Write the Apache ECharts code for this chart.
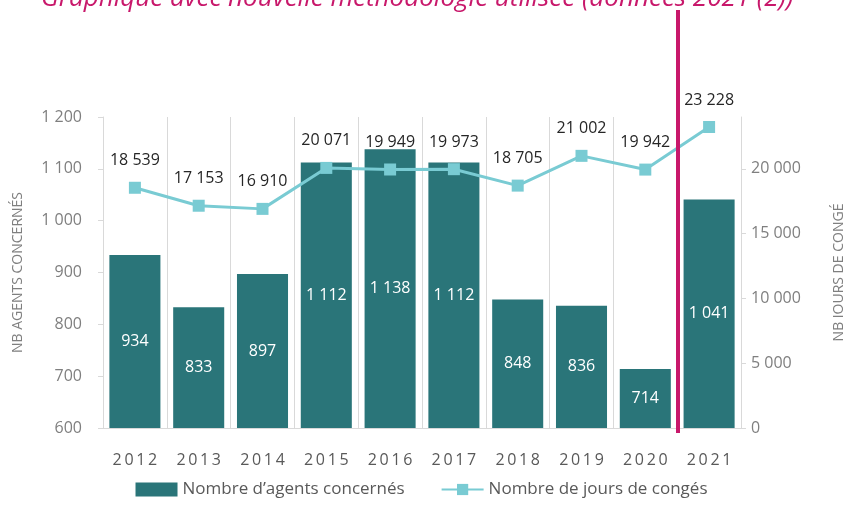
<!DOCTYPE html>
<html>
<head>
<meta charset="utf-8">
<script src="https://cdn.jsdelivr.net/npm/echarts@6/dist/echarts.min.js"></script>
<style>
  html, body { margin: 0; padding: 0; background: #fff; }
  #chart { width: 843px; height: 505px; }
</style>
</head>
<body>
<div id="chart"></div>
<script>
// Years shown on the category axis
const years = ['2012', '2013', '2014', '2015', '2016', '2017', '2018', '2019', '2020', '2021'];
// Number of agents concerned (bars, left axis)
const agents = [934, 833, 897, 1112, 1138, 1112, 848, 836, 714, 1041];
// Number of leave days (line, right axis)
const jours = [18539, 17153, 16910, 20071, 19949, 19973, 18705, 21002, 19942, 23228];

const titleText = 'Graphique avec nouvelle méthodologie utilisée (données 2021 (2))';
const fontFam = '"Open Sans", "Noto Sans", sans-serif';

// thousands separated by a space, French style
function fmt(v) {
  return String(v).replace(/\B(?=(\d{3})+(?!\d))/g, ' ');
}

const chart = echarts.init(document.getElementById('chart'), null, { renderer: 'canvas' });

chart.setOption({
  animation: false,
  title: {
    text: titleText,
    left: 36,
    top: -19,
    textStyle: { color: '#c8186b', fontStyle: 'italic', fontWeight: 'normal', fontSize: 26, fontFamily: fontFam }
  },
  grid: { left: 103, right: 102, top: 117, bottom: 77, outerBoundsMode: 'none', containLabel: false },
  legend: {
    bottom: 2,
    left: 'center',
    itemGap: 36,
    itemWidth: 42,
    itemHeight: 14,
    textStyle: { color: '#595959', fontSize: 17, fontFamily: fontFam },
    data: [
      { name: 'Nombre d’agents concernés', icon: 'rect' },
      { name: 'Nombre de jours de congés' }
    ]
  },
  xAxis: {
    type: 'category',
    data: years,
    axisLine: { lineStyle: { color: '#d9d9d9' } },
    axisTick: { show: false },
    splitLine: { show: true, lineStyle: { color: '#d9d9d9', width: 1 } },
    axisLabel: {
      color: '#595959',
      fontSize: 16,
      fontFamily: fontFam,
      margin: 24,
      formatter: v => v.split('').join('\u2009')
    }
  },
  yAxis: [
    {
      type: 'value',
      min: 600,
      max: 1200,
      interval: 100,
      name: 'NB AGENTS CONCERNÉS',
      nameLocation: 'middle',
      nameRotate: 90,
      nameGap: 78,
      nameTextStyle: { color: '#7f7f7f', fontSize: 14, fontFamily: fontFam },
      axisLine: { show: true, lineStyle: { color: '#d9d9d9' } },
      axisTick: { show: true, length: 5, lineStyle: { color: '#d9d9d9' } },
      splitLine: { show: false },
      axisLabel: { color: '#7f7f7f', fontSize: 16, fontFamily: fontFam, margin: 21, formatter: fmt }
    },
    {
      type: 'value',
      min: 0,
      max: 24000,
      interval: 5000,
      name: 'NB JOURS DE CONGÉ',
      nameLocation: 'middle',
      nameRotate: 90,
      nameGap: 91,
      nameTextStyle: { color: '#7f7f7f', fontSize: 14, fontFamily: fontFam },
      axisLine: { show: true, lineStyle: { color: '#d9d9d9' } },
      axisTick: { show: true, length: 5, lineStyle: { color: '#d9d9d9' } },
      splitLine: { show: false },
      axisLabel: { color: '#7f7f7f', fontSize: 16, fontFamily: fontFam, margin: 10, showMaxLabel: false, formatter: fmt }
    }
  ],
  series: [
    {
      name: 'Nombre d’agents concernés',
      type: 'bar',
      yAxisIndex: 0,
      data: agents,
      barCategoryGap: '20%',
      itemStyle: { color: '#2a7579' },
      label: {
        show: true,
        position: 'inside',
        color: '#ffffff',
        fontSize: 16,
        fontFamily: fontFam,
        formatter: p => fmt(p.value)
      }
    },
    {
      name: 'Nombre de jours de congés',
      type: 'line',
      yAxisIndex: 1,
      data: jours,
      symbol: 'rect',
      symbolSize: 12,
      lineStyle: { color: '#79cbd3', width: 3 },
      itemStyle: { color: '#79cbd3' },
      label: {
        show: true,
        position: 'top',
        distance: 13,
        color: '#262626',
        fontSize: 16,
        fontFamily: fontFam,
        formatter: p => fmt(p.value)
      }
    }
  ]
});

// Separator marking the methodology change between 2020 and 2021
const xA = chart.convertToPixel({ xAxisIndex: 0 }, '2020');
const xB = chart.convertToPixel({ xAxisIndex: 0 }, '2021');
const xSep = Math.round((xA + xB) / 2) + 1;
chart.setOption({
  graphic: [{
    type: 'line',
    shape: { x1: xSep, y1: 10, x2: xSep, y2: 433 },
    style: { stroke: '#c8186b', lineWidth: 4 },
    z: 100
  }]
});
</script>
</body>
</html>
